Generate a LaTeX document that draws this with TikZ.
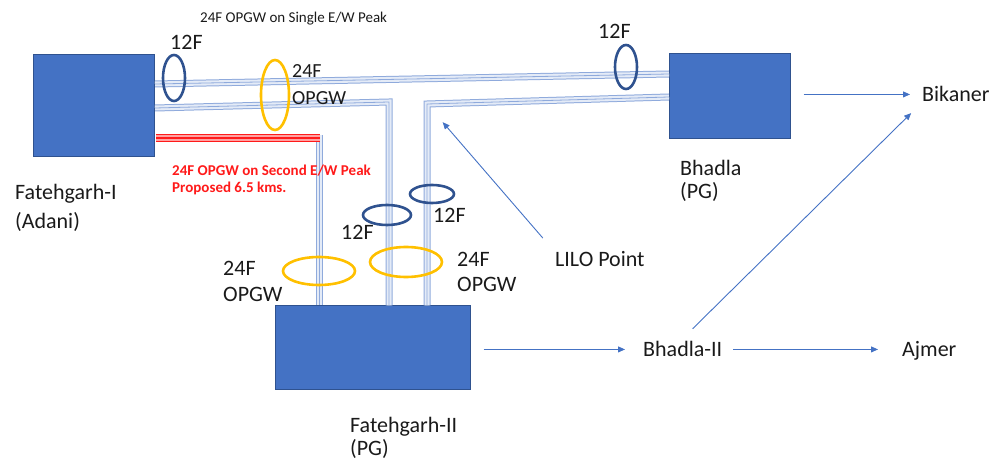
\documentclass[tikz,border=0pt]{standalone}
\usepackage{fontspec}
\setmainfont{Carlito}
\usetikzlibrary{arrows.meta,shapes.geometric}
\definecolor{boxfill}{HTML}{4472C4}
\definecolor{boxline}{HTML}{2F528F}
\definecolor{ringdark}{HTML}{2F528F}
\definecolor{ringorange}{HTML}{FFC000}
\definecolor{cableline}{HTML}{8FAADC}
\definecolor{cablefill}{HTML}{E4EBF7}
\definecolor{arrowc}{HTML}{4472C4}
\definecolor{redline}{HTML}{FF1A1A}
\definecolor{redfill}{HTML}{FFA0A0}
\definecolor{txt}{HTML}{1A1A1A}
\begin{document}
\begin{tikzpicture}[x=1pt,y=-1pt,
  station/.style={draw=boxline, line width=1pt, fill=boxfill, inner sep=0pt},
  cable/.style={draw=cableline, line width=7pt, line join=miter,
    postaction={draw=cablefill, line width=5pt},
    postaction={draw=cableline, line width=0.8pt}},
  redcable/.style={draw=redline, line width=8pt, line join=miter,
    postaction={draw=redfill, line width=5.5pt},
    postaction={draw=redline, line width=1.3pt}},
  ringd/.style={draw=ringdark, ellipse, line width=2.6pt, inner sep=0pt},
  ringo/.style={draw=ringorange, ellipse, line width=2.6pt, inner sep=0pt},
  lbl/.style={font=\fontsize{22}{27}\selectfont, text=txt, inner sep=3pt, align=left, anchor=base west},
  arr/.style={draw=arrowc, line width=0.9pt, -{Triangle[length=7pt,width=6pt]}}
]
\path[use as bounding box] (0,0) rectangle (994,462);

% stations
\node[station, minimum width=121pt, minimum height=102pt] (fgI) at (93.5,106) {};
\node[station, minimum width=121pt, minimum height=85pt] (bhadla) at (729.5,96.5) {};
\node[station, minimum width=195pt, minimum height=84pt] (fgII) at (372.5,348) {};

% cable points
\coordinate (ka1) at (155,84);
\coordinate (ka2) at (669,74);
\coordinate (kb1) at (155,108);
\coordinate (kb2) at (389,102);
\coordinate (kc1) at (669,97);
\coordinate (kc2) at (427,104);
\coordinate (kr1) at (156,138);
\coordinate (kr2) at (320,138);
\coordinate (kd1) at (319,135);

% cables
\path[cable] (ka1) -- (ka2);
\path[cable] (kb1) -- (kb2) -- (kb2 |- fgII.north);
\path[cable] (kc1) -- (kc2) -- (kc2 |- fgII.north);
\path[cable] (kd1) -- (kd1 |- fgII.north);
\path[redcable] (kr1) -- (kr2);

% rings
\node[ringd, minimum width=22pt, minimum height=46pt] (r1) at (174,78) {};
\node[ringo, minimum width=28pt, minimum height=70pt] (r2) at (275,95) {};
\node[ringd, minimum width=22pt, minimum height=44pt] (r3) at (626,67) {};
\node[ringd, minimum width=48pt, minimum height=20pt] (r4) at (387,215) {};
\node[ringd, minimum width=44pt, minimum height=18pt] (r5) at (432,194) {};
\node[ringo, minimum width=72pt, minimum height=28pt] (r6) at (319,271) {};
\node[ringo, minimum width=72pt, minimum height=30pt] (r7) at (406,262) {};

% labels (multi-line nodes: base = last line)
\node[lbl, font=\fontsize{15}{18}\selectfont] (title) at (197,23) {24F OPGW on Single E/W Peak};
\node[lbl] (l12a) at (167,50) {12F};
\node[lbl] (l12b) at (595,39) {12F};
\node[lbl] (l12c) at (338,240) {12F};
\node[lbl] (l12d) at (430,223) {12F};
\node[lbl, font=\fontsize{20}{27}\selectfont] (opgwA) at (289,105) {24F\\OPGW};
\node[lbl, font=\fontsize{22}{26}\selectfont] (opgwB) at (220,302) {24F\\OPGW};
\node[lbl, font=\fontsize{22}{25}\selectfont] (opgwC) at (454,292) {24F\\OPGW};
\node[lbl, font=\bfseries\fontsize{15}{17}\selectfont, text=redline] (redtxt) at (169,193) {24F OPGW on Second E/W Peak\\Proposed 6.5 kms.};
\node[lbl, font=\fontsize{22}{29}\selectfont] (nfgI) at (12,229) {Fatehgarh-I\\(Adani)};
\node[lbl, font=\fontsize{22}{23}\selectfont] (nbh) at (677,199) {Bhadla\\(PG)};
\node[lbl, font=\fontsize{22}{23}\selectfont] (nfgII) at (347,455) {Fatehgarh-II\\(PG)};
\node[lbl] (lilo) at (552,267) {LILO Point};
\node[lbl] (bikaner) at (919,102) {Bikaner};
\node[lbl] (bhadlaII) at (640,357) {Bhadla-II};
\node[lbl] (ajmer) at (899,357) {Ajmer};

% arrows
\draw[arr, shorten <=13pt, shorten >=9pt] (bhadla.east |- bikaner.west) -- (bikaner.west);
\draw[arr, shorten <=14pt, shorten >=11pt] (bhadlaII.north) -- (bikaner.south west);
\draw[arr, shorten <=13pt, shorten >=15pt] (fgII.east |- bhadlaII.west) -- (bhadlaII.west);
\draw[arr, shorten <=8pt, shorten >=21pt] (bhadlaII.east) -- (bhadlaII.east -| ajmer.west);
\draw[arr, shorten <=14pt, shorten >=24pt] (lilo.north west) -- (kc2);
\end{tikzpicture}
\end{document}
